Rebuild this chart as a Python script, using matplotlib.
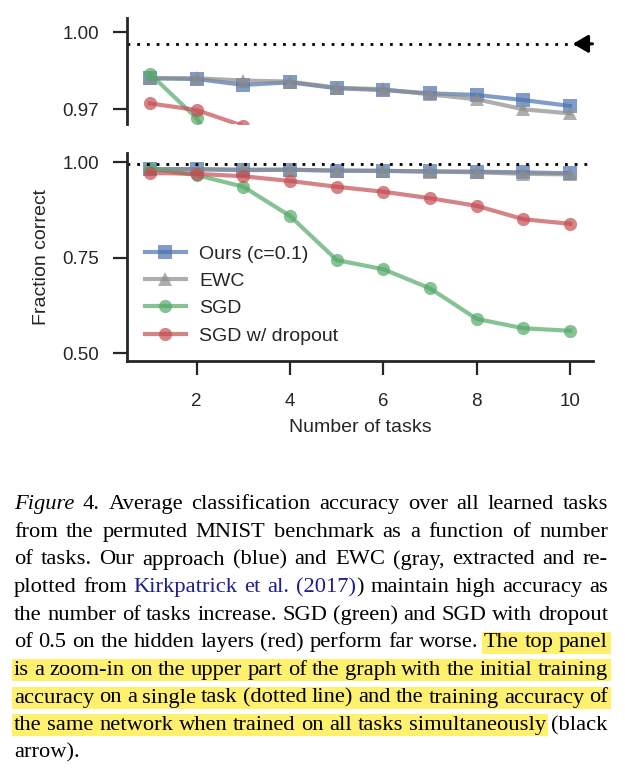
import numpy as np
import matplotlib
matplotlib.use("Agg")
import matplotlib.pyplot as plt
from matplotlib.patches import Rectangle

# data
tasks = np.arange(1, 11)
ours = [0.9821, 0.9818, 0.9795, 0.9805, 0.9782, 0.9775, 0.9762, 0.9756, 0.9736, 0.9713]
ewc = [0.9821, 0.9821, 0.9812, 0.9808, 0.9784, 0.9778, 0.9758, 0.9739, 0.9700, 0.9684]
sgd = [0.9838, 0.9665, 0.936, 0.8595, 0.744, 0.720, 0.670, 0.590, 0.5655, 0.559]
sgd_dropout = [0.9723, 0.9697, 0.9635, 0.951, 0.936, 0.923, 0.906, 0.886, 0.851, 0.839]
single_task = 0.9955
all_tasks = 0.9955

series = [
    ("Ours (c=0.1)", ours, "#4C72B0", "s", 10),
    ("EWC", ewc, "#8c8c8c", "^", 10),
    ("SGD", sgd, "#55A868", "o", 9.5),
    ("SGD w/ dropout", sgd_dropout, "#C44E52", "o", 9.5),
]

plt.rcParams["font.family"] = ["Liberation Sans", "DejaVu Sans"]
plt.rcParams["text.color"] = "#262626"
plt.rcParams["axes.labelcolor"] = "#262626"
plt.rcParams["xtick.color"] = "#262626"
plt.rcParams["ytick.color"] = "#262626"

W, H = 625, 776
fig = plt.figure(figsize=(W / 100, H / 100), dpi=100)

left = 126.7 / W
width = (593.4 - 126.7) / W
ax_top = fig.add_axes([left, 1 - 124 / H, width, (124 - 18.3) / H])
ax_bot = fig.add_axes([left, 1 - 360.7 / H, width, (360.7 - 153.3) / H])


def style_axes(ax):
    for s in ["top", "right"]:
        ax.spines[s].set_visible(False)
    for s in ["left", "bottom"]:
        ax.spines[s].set_linewidth(2)
        ax.spines[s].set_color("#262626")
    ax.tick_params(length=10, width=1.6, pad=10, labelsize=13.5)
    ax.tick_params(axis="x", pad=13)
    ax.set_xlim(0.5, 10.5)


for ax in [ax_top, ax_bot]:
    style_axes(ax)
    for name, vals, color, marker, ms in series:
        ax.plot(tasks, vals, color=color, marker=marker, markersize=ms,
                linewidth=3, alpha=0.7, markeredgewidth=0, label=name)
    ax.axhline(single_task, color="black", linewidth=2, linestyle=(0, (1, 2.5)))

# top panel (zoom)
ax_top.set_ylim(0.96427, 1.00545)
ax_top.set_yticks([0.97, 1.00])
ax_top.set_yticklabels(["0.97", "1.00"])
ax_top.spines["bottom"].set_visible(False)
ax_top.set_xticks([])
ax_top.annotate("", xy=(10.06, all_tasks), xytext=(10.48, all_tasks),
                arrowprops=dict(arrowstyle="-|>,head_length=0.65,head_width=0.38",
                                color="black", lw=2.2, mutation_scale=14,
                                shrinkA=0, shrinkB=0))

# bottom panel
ax_bot.set_ylim(0.4806, 1.0236)
ax_bot.set_yticks([0.5, 0.75, 1.0])
ax_bot.set_yticklabels(["0.50", "0.75", "1.00"])
ax_bot.set_xticks([2, 4, 6, 8, 10])
ax_bot.set_xlabel("Number of tasks", fontsize=14, labelpad=7)
ax_bot.set_ylabel("Fraction correct", fontsize=14, labelpad=9)
ax_bot.legend(loc="lower left", bbox_to_anchor=(0.01, 0.012), frameon=False,
              fontsize=14, handlelength=2.1, handletextpad=0.7, numpoints=1,
              labelspacing=0.5, borderaxespad=0.3)

# caption, justified word by word
cap = fig.add_axes([0, 0, 1, 1])
cap.set_xlim(0, W)
cap.set_ylim(H, 0)
cap.axis("off")

NAVY = "#1f1f8f"
INK = "#000000"
HL = "#fff06e"

caption_lines = [
    "*Figure|\u00a04. Average classification accuracy over all learned tasks",
    "from the permuted MNIST benchmark as a function of number",
    "of tasks.  Our approach (blue) and EWC (gray, extracted and re-",
    "plotted from @Kirkpatrick @et @al. @(2017)|) maintain high accuracy as",
    "the number of tasks increase. SGD (green) and SGD with dropout",
    "of 0.5 on the hidden layers (red) perform far worse. The top panel",
    "is a zoom-in on the upper part of the graph with the initial training",
    "accuracy on a single task (dotted line) and the training accuracy of",
    "the same network when trained on all tasks simultaneously (black",
    "arrow).",
]
# highlighted words per line: first word, last word (None = to the end)
highlights = {5: (10, None), 6: (0, None), 7: (0, None), 8: (0, 8)}

x0, x1 = 14, 608
base0, step = 509.3, 27.6
fs = 16.2
renderer = fig.canvas.get_renderer()


def make_word(word):
    # '*' italic, '@' navy link text, '|' splits pieces inside a word
    pieces = []
    for part in word.split("|"):
        style = "normal"
        color = INK
        if part.startswith("*"):
            part = part[1:]
            style = "italic"
        if part.startswith("@"):
            part = part[1:]
            color = NAVY
        pieces.append((part, style, color))
    return pieces


for i, line in enumerate(caption_lines):
    y = base0 + i * step
    words = [make_word(w) for w in line.split()]
    objs = []
    widths = []
    for w in words:
        wobjs = []
        ww = 0
        for txt, style, color in w:
            t = cap.text(0, y, txt, fontsize=fs, family=["Liberation Serif", "DejaVu Serif"],
                         style=style, color=color, va="baseline", ha="left", zorder=3)
            bw = t.get_window_extent(renderer).width
            wobjs.append((t, ww))
            ww += bw
        objs.append(wobjs)
        widths.append(ww)
    if i < len(caption_lines) - 1:
        gap = max((x1 - x0 - sum(widths)) / (len(words) - 1), 2.5)
    else:
        gap = 5.0
    x = x0
    starts = []
    for wobjs, ww in zip(objs, widths):
        starts.append(x)
        for t, off in wobjs:
            t.set_x(x + off)
        x += ww + gap
    if i in highlights:
        a, b = highlights[i]
        hx0 = starts[a] - 2 if a > 0 else x0 - 2
        hx1 = x1 + 3 if b is None else starts[b] + widths[b] + 2
        cap.add_patch(Rectangle((hx0, y - 15.8), hx1 - hx0, 22,
                                facecolor=HL, edgecolor="none", zorder=1))

fig.savefig("out.png", dpi=100)
